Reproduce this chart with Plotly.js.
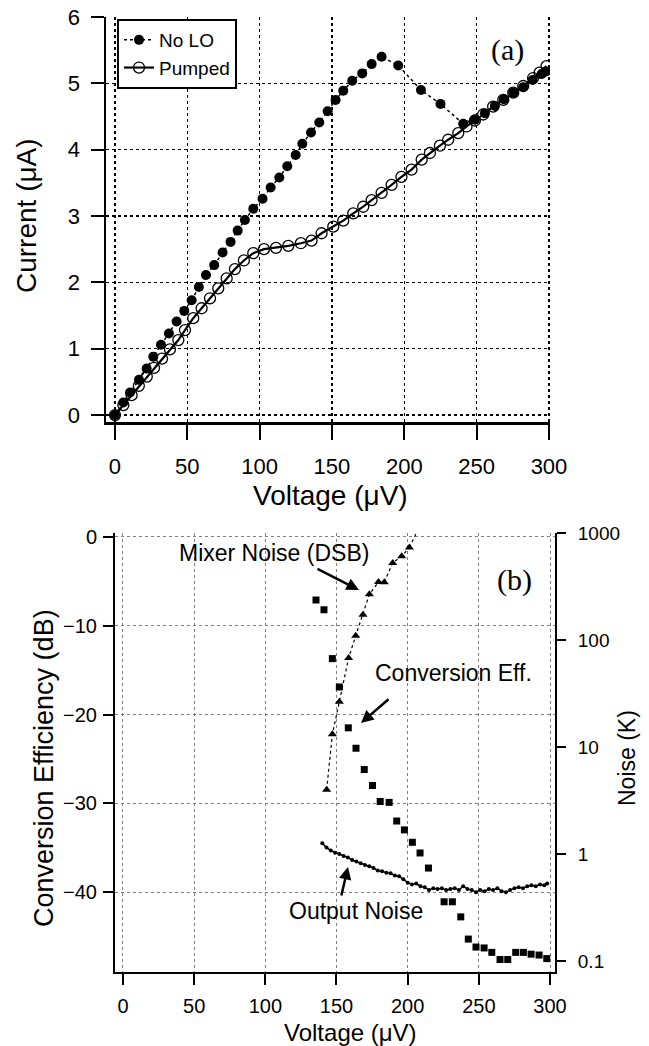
<!DOCTYPE html>
<html>
<head>
<meta charset="utf-8">
<script src="https://cdn.plot.ly/plotly-3.0.1.min.js"></script>
<style>html,body{margin:0;padding:0;background:#fff;}#chart{width:649px;height:1046px;}</style>
</head>
<body>
<div id="chart"></div>
<script>
// ---------- Panel (a): I-V curves ----------
const noLoV = [0,5.8,10.4,16.6,21.9,26.5,31.8,37.3,42.6,47.9,53,58,62.9,68.6,74.4,79.9,84.8,89.8,95.6,102,107.6,113.6,119.1,124.9,129.5,135.5,141.2,147,152.5,157.8,164,170.9,177.4,184.3,195.8,211.5,225,240.7,248.8,255.7,262.6,268.8,275.3,282.2,288.7,294.9,298];
const noLoI = [0,0.19,0.34,0.53,0.70,0.88,1.06,1.23,1.41,1.57,1.73,1.93,2.11,2.26,2.45,2.61,2.78,2.94,3.11,3.26,3.43,3.58,3.75,3.92,4.09,4.26,4.41,4.58,4.75,4.89,5.04,5.15,5.29,5.40,5.27,4.90,4.69,4.39,4.45,4.55,4.66,4.76,4.86,4.94,5.05,5.14,5.18];
const pumpV = [0,5.8,11.5,16.5,22,27,32.5,38,43.8,48.4,54.1,59.9,65.7,71.4,77.2,82.9,89.1,95.6,103,111.3,119.8,128.5,135.9,142.8,150.9,157.8,164.7,171.6,177.4,184.3,191.2,198,205,212,217.7,224.6,230.3,237.3,243,248.8,254.5,261.4,268.4,275.3,282.2,289,293.5,298.3];
const pumpI = [0,0.15,0.30,0.44,0.58,0.71,0.85,0.99,1.13,1.28,1.46,1.61,1.76,1.91,2.06,2.20,2.33,2.44,2.50,2.52,2.55,2.59,2.63,2.74,2.84,2.93,3.04,3.14,3.24,3.35,3.47,3.59,3.70,3.85,3.95,4.06,4.15,4.25,4.35,4.44,4.53,4.65,4.75,4.86,4.96,5.08,5.16,5.26];

// ---------- Panel (b): conversion efficiency and noise ----------
const ceV  = [135.6,141.2,147.1,152,158.3,163.7,169.5,175.3,180.7,187,192.3,197.7,203.3,208.7,214.6,225.6,231.4,237.3,242.6,248,253.7,259.1,264.9,270.3,275.9,281.3,286.7,292.3,297.7];
const ceDB = [-7.1,-8.2,-13.7,-16.9,-21.5,-23.8,-26.2,-28.0,-29.8,-29.9,-32.0,-33.0,-34.4,-35.6,-37.3,-41.1,-41.1,-42.8,-45.3,-46.2,-46.3,-46.8,-47.6,-47.6,-46.8,-46.8,-47.0,-47.1,-47.5];
const mixV = [143.1,147.1,152,158.5,163.5,168.6,173.1,179.5,183.6,189.5,195.8,201.2];
const mixK = [4.0,13.2,26.5,68,110,173,268,350,348,528,610,735];
const mixTailV = [201.2,206];
const mixTailK = [735,1000];
const outV = [140,143,146,149,152,155,158,161,164,167,170,173,176,179,182,185,188,191,194,197,200,203,206,209,212,215,218,221,224,227,230,233,236,239,242,245,248,251,254,257,260,263,266,269,272,275,278,281,284,287,290,293,296,298];
const outK = [1.26,1.15,1.08,1.03,1.00,0.96,0.93,0.88,0.85,0.82,0.79,0.77,0.74,0.70,0.69,0.67,0.66,0.63,0.62,0.58,0.54,0.52,0.53,0.50,0.49,0.46,0.48,0.47,0.48,0.46,0.47,0.48,0.46,0.50,0.47,0.46,0.44,0.46,0.45,0.47,0.46,0.48,0.45,0.44,0.46,0.48,0.49,0.48,0.50,0.51,0.50,0.52,0.51,0.53];

const xTicks = [0,50,100,150,200,250,300];
const iTicks = [0,1,2,3,4,5,6];
const dbTicks = [0,-10,-20,-30,-40];
const noiseTicks = [0.1,1,10,100,1000];
const noiseTickText = ['0.1','1','10','100','1000'];

const W = 649, H = 1046;
const px = v => v / W;
const py = v => 1 - v / H;
const FONT = 'Liberation Sans, Arial, Helvetica, sans-serif';

// panel (b) geometry and axis ranges
const B_TOP = 533, B_BOT = 972, B_LEFT = 115, B_RIGHT = 555;
const X2_RANGE = [-5.6, 303.5];
const LOG_RANGE = [-1.103, 3.002];
const yDom = [1 - B_BOT / H, 1 - B_TOP / H];

// minor tick marks of the log noise axis (2..9 in each decade)
const minorLog = [];
for (const d of [0.1, 1, 10, 100]) { for (let k = 2; k <= 9; k++) { minorLog.push(d * k); } }
// x position just outside the right axis line (3 px), in x2 data units
const x2PerPx = (X2_RANGE[1] - X2_RANGE[0]) / (B_RIGHT - B_LEFT);
const minorX = minorLog.map(() => X2_RANGE[1] + 3 * x2PerPx);

const traces = [
  { x: noLoV, y: noLoI, name: 'No LO', type: 'scatter', mode: 'lines+markers', xaxis: 'x', yaxis: 'y',
    line: { color: 'black', width: 1.5, dash: 'dot' }, marker: { symbol: 'circle', size: 10, color: 'black' } },
  { x: pumpV, y: pumpI, name: 'Pumped', type: 'scatter', mode: 'lines+markers', xaxis: 'x', yaxis: 'y',
    line: { color: 'black', width: 2.2 }, marker: { symbol: 'circle-open', size: 11, color: 'black', line: { width: 1.3, color: 'black' } } },
  { x: ceV, y: ceDB, name: 'Conversion Eff.', type: 'scatter', mode: 'markers', xaxis: 'x2', yaxis: 'y3', showlegend: false,
    marker: { symbol: 'square', size: 7, color: 'black' } },
  { x: mixV, y: mixK, name: 'Mixer Noise (DSB)', type: 'scatter', mode: 'lines+markers', xaxis: 'x2', yaxis: 'y4', showlegend: false,
    line: { color: 'black', width: 1.2, dash: 'dot' }, marker: { symbol: 'triangle-up', size: 8, color: 'black' } },
  { x: mixTailV, y: mixTailK, name: 'Mixer Noise tail', type: 'scatter', mode: 'lines', xaxis: 'x2', yaxis: 'y4', showlegend: false,
    line: { color: 'black', width: 1.2, dash: 'dot' } },
  { x: outV, y: outK, name: 'Output Noise', type: 'scatter', mode: 'lines+markers', xaxis: 'x2', yaxis: 'y4', showlegend: false,
    line: { color: 'black', width: 1.5 }, marker: { symbol: 'circle', size: 4, color: 'black' } },
  { x: minorX, y: minorLog, name: 'minor ticks', type: 'scatter', mode: 'markers', xaxis: 'x2', yaxis: 'y4', showlegend: false,
    cliponaxis: false, hoverinfo: 'skip',
    marker: { symbol: 'line-ew', size: 6, color: 'black', line: { width: 1.5, color: 'black' } } }
];

function txt(x, y, text, size, opts) {
  return Object.assign({ xref: 'paper', yref: 'paper', x: px(x), y: py(y), text: text, showarrow: false,
    xanchor: 'center', yanchor: 'middle', font: { family: FONT, size: size, color: 'black' } }, opts || {});
}
function arrow(hx, hy, ax, ay) {
  return { xref: 'paper', yref: 'paper', x: px(hx), y: py(hy), text: '', showarrow: true, ax: ax, ay: ay,
    arrowhead: 2, arrowsize: 1, arrowwidth: 2.5, arrowcolor: 'black' };
}

const layout = {
  width: W, height: H,
  margin: { l: 0, r: 0, t: 0, b: 0, pad: 0 },
  paper_bgcolor: 'white', plot_bgcolor: 'white',
  font: { family: FONT, color: 'black' },
  showlegend: true,
  legend: { x: px(117), y: py(19), xanchor: 'left', yanchor: 'top', bgcolor: 'white',
    bordercolor: 'black', borderwidth: 2, font: { family: FONT, size: 19, color: 'black' }, tracegroupgap: 0 },
  xaxis: { domain: [px(106), px(550)], anchor: 'y', range: [-6.2, 300.7], tickvals: xTicks,
    showgrid: true, gridcolor: 'black', gridwidth: 1.5, griddash: 'dot', zeroline: false,
    showline: true, linecolor: 'black', linewidth: 2.5, ticks: 'outside', ticklen: 15, tickwidth: 2, tickcolor: 'black',
    tickfont: { family: FONT, size: 22, color: 'black' }, ticklabelstandoff: 8 },
  yaxis: { domain: [1 - 422 / H, 1 - 17 / H], anchor: 'x', range: [-0.105, 6.0], tickvals: iTicks,
    showgrid: true, gridcolor: 'black', gridwidth: 1.5, griddash: 'dot', zeroline: false,
    showline: true, linecolor: 'black', linewidth: 2.5, ticks: 'outside', ticklen: 13, tickwidth: 2, tickcolor: 'black',
    tickfont: { family: FONT, size: 22, color: 'black' }, ticklabelstandoff: 6 },
  xaxis2: { domain: [px(B_LEFT), px(B_RIGHT)], anchor: 'y3', range: X2_RANGE, tickvals: xTicks,
    showgrid: true, gridcolor: '#808080', gridwidth: 1, griddash: 'dot', zeroline: false,
    showline: true, linecolor: 'black', linewidth: 2, ticks: 'outside', ticklen: 11, tickwidth: 2, tickcolor: 'black',
    tickfont: { family: FONT, size: 20, color: 'black' }, ticklabelstandoff: 4 },
  yaxis3: { domain: yDom, anchor: 'x2', range: [-49.01, 0.45], tickvals: dbTicks,
    showgrid: true, gridcolor: '#808080', gridwidth: 1, griddash: 'dot', zeroline: false,
    showline: true, linecolor: 'black', linewidth: 2, ticks: 'outside', ticklen: 10, tickwidth: 2, tickcolor: 'black',
    tickfont: { family: FONT, size: 20, color: 'black' }, ticklabelstandoff: 2 },
  yaxis4: { overlaying: 'y3', side: 'right', anchor: 'x2', type: 'log', range: LOG_RANGE,
    tickmode: 'array', tickvals: noiseTicks, ticktext: noiseTickText, showgrid: false, zeroline: false,
    showline: true, linecolor: 'black', linewidth: 2, ticks: 'outside', ticklen: 9, tickwidth: 2, tickcolor: 'black',
    tickfont: { family: FONT, size: 19, color: 'black' }, ticklabelstandoff: 8 },
  annotations: [
    txt(27, 216, 'Current (μA)', 28, { textangle: -90 }),
    txt(330, 495, 'Voltage (μV)', 28),
    txt(507, 50, '(a)', 30, { font: { family: 'Liberation Serif, Times New Roman, serif', size: 30, color: 'black' } }),
    txt(44, 768, 'Conversion Efficiency (dB)', 27, { textangle: -90 }),
    txt(627, 758, 'Noise (K)', 23, { textangle: -90 }),
    txt(350, 1032, 'Voltage (μV)', 24),
    txt(514, 580, '(b)', 30, { font: { family: 'Liberation Serif, Times New Roman, serif', size: 30, color: 'black' } }),
    txt(273.5, 553, 'Mixer Noise (DSB)', 23),
    txt(453, 673, 'Conversion Eff.', 23),
    txt(356, 911, 'Output Noise', 23),
    arrow(359, 590, -43, -22),
    arrow(361, 723, 29, -25),
    arrow(348, 867, -7, 30)
  ]
};

Plotly.newPlot('chart', traces, layout, { staticPlot: true, displayModeBar: false });
</script>
</body>
</html>
